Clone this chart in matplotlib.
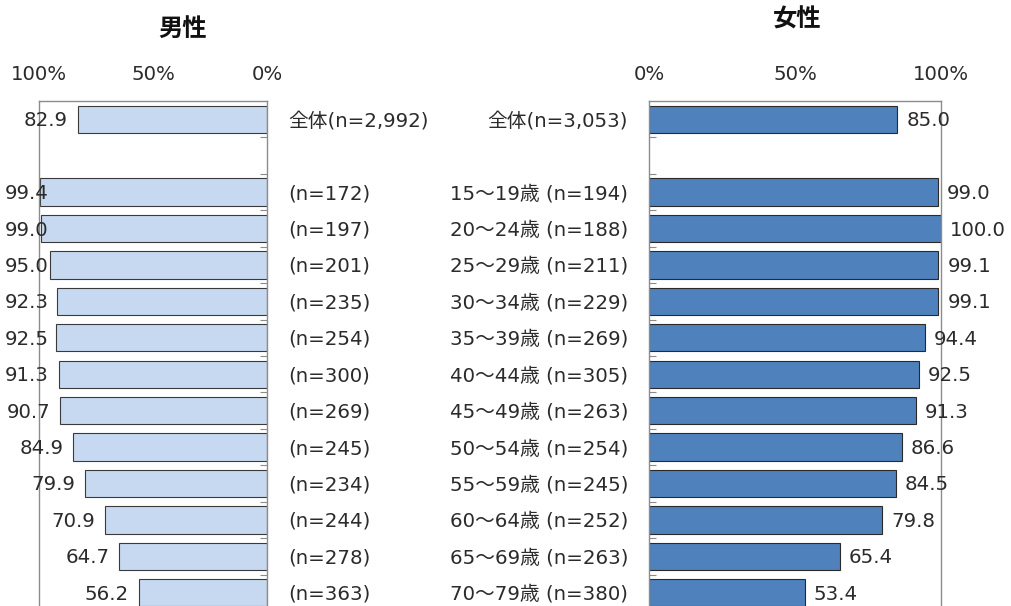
import matplotlib
matplotlib.use("Agg")
import matplotlib.pyplot as plt

plt.rcParams['font.family'] = ['DejaVu Sans', 'Noto Sans CJK JP']

male_labels = ["全体(n=2,992)", "(n=172)", "(n=197)", "(n=201)", "(n=235)", "(n=254)",
               "(n=300)", "(n=269)", "(n=245)", "(n=234)", "(n=244)", "(n=278)", "(n=363)"]
male_values = [82.9, 99.4, 99.0, 95.0, 92.3, 92.5, 91.3, 90.7, 84.9, 79.9, 70.9, 64.7, 56.2]

female_labels = ["全体(n=3,053)", "15～19歳 (n=194)", "20～24歳 (n=188)", "25～29歳 (n=211)",
                 "30～34歳 (n=229)", "35～39歳 (n=269)", "40～44歳 (n=305)", "45～49歳 (n=263)",
                 "50～54歳 (n=254)", "55～59歳 (n=245)", "60～64歳 (n=252)", "65～69歳 (n=263)",
                 "70～79歳 (n=380)"]
female_values = [85.0, 99.0, 100.0, 99.1, 99.1, 94.4, 92.5, 91.3, 86.6, 84.5, 79.8, 65.4, 53.4]

x_ticks = [0, 50, 100]
x_ticklabels = ["0%", "50%", "100%"]

W, H = 1011, 606
fig = plt.figure(figsize=(W / 100, H / 100), dpi=100)

# row positions: total at 0, gap row 1, then ages 2..13
positions = [0] + list(range(2, 2 + len(male_values) - 1))

text_color = "#2b2b2b"
spine_color = "#8c8c8c"
fs = 14.2

def setup(ax, inverted):
    ax.set_xlim(0, 100)
    if inverted:
        ax.invert_xaxis()
    ax.set_ylim(13.5, -0.5)
    ax.xaxis.tick_top()
    ax.set_xticks(x_ticks)
    ax.set_xticklabels(x_ticklabels, fontsize=fs, color=text_color)
    ax.tick_params(axis='x', length=0, pad=12.5)
    ax.set_yticks([p + 0.5 for p in range(13)])
    ax.set_yticklabels([])
    ax.tick_params(axis='y', direction='in', length=5, color=spine_color, width=0.8,
                   left=not inverted, right=inverted, labelleft=False)
    for s in ax.spines.values():
        s.set_color(spine_color)
        s.set_linewidth(1.0)
    ax.spines['bottom'].set_visible(False)

top_px, bot_px = 101, 611
axL = fig.add_axes([39 / W, 1 - bot_px / H, 228 / W, (bot_px - top_px) / H])
axR = fig.add_axes([649 / W, 1 - bot_px / H, 292 / W, (bot_px - top_px) / H])

setup(axL, True)
setup(axR, False)

axL.barh(positions, male_values, height=0.75, color="#C6D9F1", edgecolor="#3a3a3a", linewidth=0.8)
axR.barh(positions, female_values, height=0.75, color="#4F81BD", edgecolor="#2a2a2a", linewidth=0.8)

male_value_texts = []
for p, v, lab in zip(positions, male_values, male_labels):
    t = axL.annotate(f"{v:.1f}", xy=(v, p), xytext=(-10, -1.5), textcoords="offset pixels",
                     ha="right", va="center", fontsize=fs, color=text_color, annotation_clip=False)
    male_value_texts.append(t)
    axL.annotate(lab, xy=(0, p), xytext=(21, -1.5), textcoords="offset pixels",
                 ha="left", va="center", fontsize=fs, color=text_color, annotation_clip=False)

for p, v, lab in zip(positions, female_values, female_labels):
    axR.annotate(f"{v:.1f}", xy=(v, p), xytext=(9, -1.5), textcoords="offset pixels",
                 ha="left", va="center", fontsize=fs, color=text_color, annotation_clip=False)
    axR.annotate(lab, xy=(0, p), xytext=(-21, -1.5), textcoords="offset pixels",
                 ha="right", va="center", fontsize=fs, color=text_color, annotation_clip=False)

fig.text(183 / W, 1 - 29 / H, "男性", ha="center", va="center", fontsize=17.5, fontweight="bold", color="#111111")
fig.text(797 / W, 1 - 20 / H, "女性", ha="center", va="center", fontsize=17.5, fontweight="bold", color="#111111")

# keep value labels inside the chart area (as the original does), min left edge 5px
fig.canvas.draw()
renderer = fig.canvas.get_renderer()
for t in male_value_texts:
    bb = t.get_window_extent(renderer)
    if bb.x0 < 5:
        dx = 5 - bb.x0
        ox, oy = t.xyann
        t.xyann = (ox + dx, oy)

fig.savefig("out.png", dpi=100)
